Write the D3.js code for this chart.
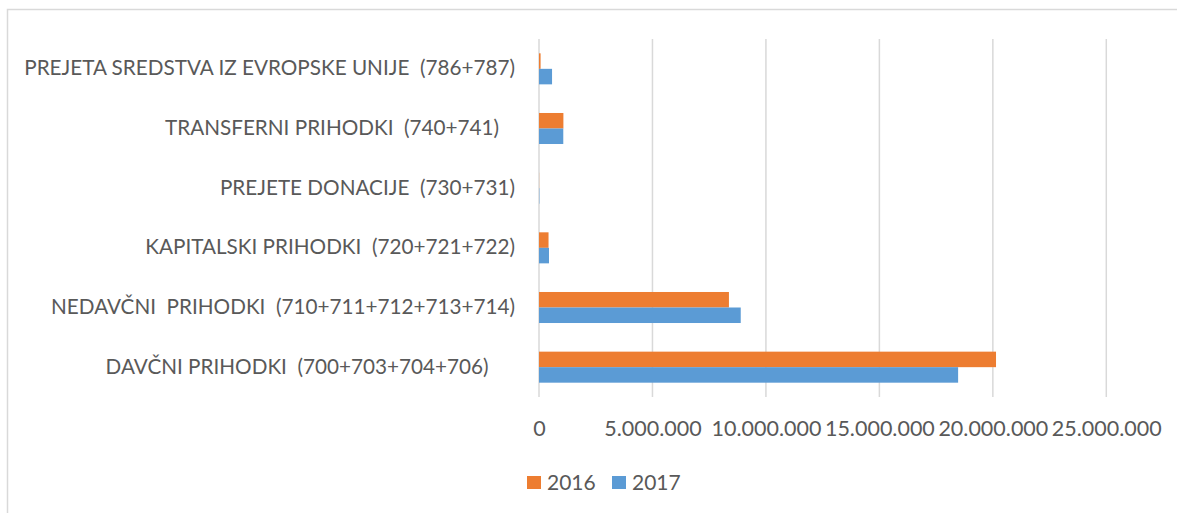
<!DOCTYPE html>
<html>
<head>
<meta charset="utf-8">
<script src="https://cdn.jsdelivr.net/npm/d3@7"></script>
<style>
  body { margin: 0; background: #fff; }
  text { font-family: Lato, "Noto Sans", sans-serif; fill: #595959; }
</style>
</head>
<body>
<div id="chart"></div>
<script>
// categories, top to bottom (trailing spaces as in the original labels)
var categories = [
  "PREJETA SREDSTVA IZ EVROPSKE UNIJE  (786+787)",
  "TRANSFERNI PRIHODKI  (740+741)   ",
  "PREJETE DONACIJE  (730+731)",
  "KAPITALSKI PRIHODKI  (720+721+722)",
  "NEDAVČNI  PRIHODKI  (710+711+712+713+714)",
  "DAVČNI PRIHODKI  (700+703+704+706)     "
];
var years = ["2016", "2017"];
var values2016 = [70000, 1075000, 5000, 420000, 8370000, 20140000];
var values2017 = [575000, 1070000, 15000, 440000, 8890000, 18470000];
var xTicks = [0, 5000000, 10000000, 15000000, 20000000, 25000000];
var colors = ["#ED7D31", "#5B9BD5"];

var width = 1185, height = 513;
var margin = {top: 39, right: 79, bottom: 116, left: 539};

var svg = d3.select("#chart")
  .append("svg")
    .attr("width", width)
    .attr("height", height);

// chart area border (top and left edges visible)
svg.append("path")
    .attr("d", "M7.5,600 V9.5 H1177")
    .attr("fill", "none")
    .attr("stroke", "#d9d9d9")
    .attr("stroke-width", 1.5);

var g = svg.append("g")
    .attr("transform", "translate(" + margin.left + "," + margin.top + ")");

var innerW = 1106.3 - margin.left,
    innerH = 397 - margin.top;

var x = d3.scaleLinear()
    .domain([0, 25000000])
    .range([0, innerW]);

var y = d3.scaleBand()
    .domain(categories)
    .range([0, innerH])
    .paddingInner(0.48)
    .paddingOuter(0.24);

var ySub = d3.scaleBand()
    .domain(years)
    .range([0, y.bandwidth()]);

// gridlines
g.selectAll(".grid")
  .data(xTicks)
  .enter()
  .append("line")
    .attr("x1", function(d) { return x(d); })
    .attr("x2", function(d) { return x(d); })
    .attr("y1", 0)
    .attr("y2", innerH)
    .attr("stroke", "#d9d9d9")
    .attr("stroke-width", 1.5);

// x axis labels
var fmt = function(d) { return d3.format(",")(d).replace(/,/g, "."); };
var xAxis = g.append("g")
    .attr("transform", "translate(0," + innerH + ")")
    .call(d3.axisBottom(x).tickValues(xTicks).tickFormat(fmt).tickSize(0).tickPadding(24));
xAxis.select(".domain").remove();
xAxis.selectAll("text")
    .style("font-size", "21.5px")
    .attr("fill", "#595959");

// category labels
var yAxis = g.append("g")
    .call(d3.axisLeft(y).tickSize(0).tickPadding(24));
yAxis.select(".domain").remove();
yAxis.selectAll("text")
    .style("font-size", "20.7px")
    .style("white-space", "pre")
    .attr("fill", "#595959");

// bars
var rows = categories.map(function(c, i) {
  return {cat: c, vals: [values2016[i], values2017[i]]};
});

var groups = g.selectAll(".cat")
  .data(rows)
  .enter()
  .append("g")
    .attr("transform", function(d) { return "translate(0," + y(d.cat) + ")"; });

groups.selectAll("rect")
  .data(function(d) { return d.vals.map(function(v, j) { return {year: years[j], v: v, j: j}; }); })
  .enter()
  .append("rect")
    .attr("x", x(0))
    .attr("y", function(d) { return ySub(d.year); })
    .attr("width", function(d) { return x(d.v) - x(0); })
    .attr("height", ySub.bandwidth())
    .attr("fill", function(d) { return colors[d.j]; });

// legend
var legend = svg.append("g")
    .attr("transform", "translate(527,476)");
var item = legend.selectAll("g")
  .data(years)
  .enter()
  .append("g")
    .attr("transform", function(d, i) { return "translate(" + (i * 85) + ",0)"; });
item.append("rect")
    .attr("width", 14)
    .attr("height", 13)
    .attr("fill", function(d, i) { return colors[i]; });
item.append("text")
    .attr("x", 20)
    .attr("y", 13.5)
    .style("font-size", "21px")
    .text(function(d) { return d; });
</script>
</body>
</html>
